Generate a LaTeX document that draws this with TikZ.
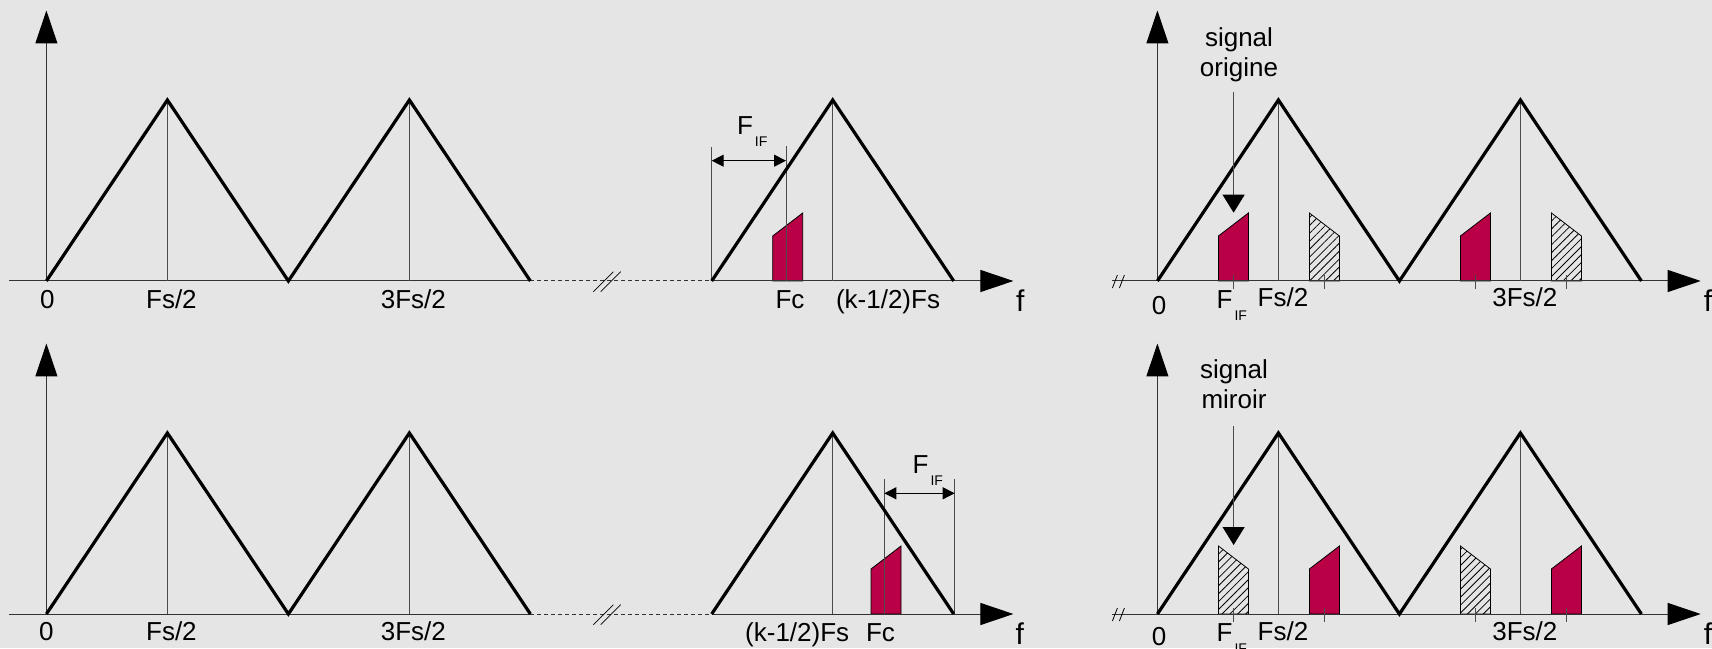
\documentclass[tikz,border=0pt]{standalone}
\usepackage{fontspec}
\setmainfont{Liberation Sans}
\usetikzlibrary{arrows.meta, patterns.meta, positioning}
\definecolor{cFond}{gray}{0.9}
\definecolor{cSignal}{RGB}{185,0,70}
\colorlet{cTrait}{black!80}

\tikzset{
  spectre/.style={line width=1.6pt},
  axe/.style={line width=0.5pt, cTrait},
  fleche/.style={-{Triangle[length=16.5pt,width=11pt,black]}},
  raie/.style={line width=0.5pt, black!70},
  cote/.style={line width=0.5pt, {Triangle[length=6pt,width=6pt]}-{Triangle[length=6pt,width=6pt]}},
  pointe/.style={line width=0.5pt, black!70, -{Triangle[length=9pt,width=11pt,black]}},
  blocRouge/.style={draw=black, line width=0.4pt, fill=cSignal},
  blocHach/.style={draw=black, line width=0.4pt, pattern={Lines[angle=45,distance=2.8pt,line width=0.4pt]}},
  lbl/.style={anchor=base, inner sep=0pt, font=\fontsize{13}{15}\selectfont},
  lblf/.style={anchor=base, inner sep=0pt, font=\fontsize{15}{17}\selectfont},
  note/.style={anchor=south, inner sep=0pt, align=center, font=\fontsize{13}{15}\selectfont},
}
\newcommand{\fif}{F\hspace{1pt}\raisebox{-6pt}{\fontsize{7}{8}\selectfont IF}}

\begin{document}
\begin{tikzpicture}[x=0.5pt, y=0.5pt]
    \useasboundingbox (0,0) rectangle (1712,648);
    \fill[cFond] (0,0) rectangle (1712,648);

    % Haut gauche : bande de Nyquist k, signal au-dessous de (k-1/2)Fs
    \begin{scope}[shift={(46.4,367)}]
    \draw[blocRouge] (726.3,0) -- (726.3,45) -- (756.3,68) -- (756.3,0) -- cycle;
    \draw[axe] (-37.4,0) -- (484,0);
    \draw[axe, dash pattern=on 2pt off 1.5pt] (484,0) -- (665.3,0);
    \draw[axe, fleche] (665.3,0) -- (967,0);
    \draw[axe, fleche] (0,0) -- (0,270.5);
    \draw[line width=0.4pt] (547,-10.7) -- (567,9.3) (554.3,-10.7) -- (574.3,9.3);
    \foreach \x in {121,363,786.3} \draw[raie] (\x,0) -- (\x,181);
    \draw[raie] (665.3,0) -- (665.3,134) (739.6,0) -- (739.6,135);
    \coordinate (fiG) at (665.3,120.3); \coordinate (fiD) at (739.6,120.3);
    \draw[cote] (fiG) -- (fiD);
    \draw[spectre] (0,0) -- (121,181) -- (242,0) -- (363,181) -- (484,0);
    \draw[spectre] (665.3,0) -- (786.3,181) -- (907.3,0);
    \node[lbl, anchor=base west] (fiH) at (690.3,146) {\fif};
    \node[lbl] (zeroHG) at (0.9,-27.3) {0};
    \node[lbl] (fsHG) at (125,-27.3) {Fs/2};
    \node[lbl] (fs3HG) at (367,-27.3) {3Fs/2};
    \node[lbl] (fcH) at (743.6,-27.3) {Fc};
    \node[lbl] (fkH) at (841.6,-27.3) {(k-1/2)Fs};
    \node[lblf] (fHG) at (973.9,-30.7) {f};
    \end{scope}

    % Bas gauche : signal au-dessus de (k-1/2)Fs
    \begin{scope}[shift={(46.4,34)}]
    \draw[blocRouge] (824.6,0) -- (824.6,45) -- (854.6,68) -- (854.6,0) -- cycle;
    \draw[axe] (-37.4,0) -- (484,0);
    \draw[axe, dash pattern=on 2pt off 1.5pt] (484,0) -- (665.3,0);
    \draw[axe, fleche] (665.3,0) -- (967,0);
    \draw[axe, fleche] (0,0) -- (0,270.5);
    \draw[line width=0.4pt] (547,-10.7) -- (567,9.3) (554.3,-10.7) -- (574.3,9.3);
    \foreach \x in {121,363,786.3} \draw[raie] (\x,0) -- (\x,181);
    \draw[raie] (837.9,0) -- (837.9,134.7) (908.3,0) -- (908.3,134.7);
    \coordinate (fiG2) at (837.9,120.7); \coordinate (fiD2) at (908.3,120.7);
    \draw[cote] (fiG2) -- (fiD2);
    \draw[spectre] (0,0) -- (121,181) -- (242,0) -- (363,181) -- (484,0);
    \draw[spectre] (665.3,0) -- (786.3,181) -- (907.3,0);
    \node[lbl, anchor=base west] (fiB) at (865.9,140) {\fif};
    \node[lbl] (zeroBG) at (0,-26) {0};
    \node[lbl] (fsBG) at (125,-26) {Fs/2};
    \node[lbl] (fs3BG) at (367,-26) {3Fs/2};
    \node[lbl] (fkB) at (750.8,-27.7) {(k-1/2)Fs};
    \node[lbl] (fcB) at (834.1,-27.7) {Fc};
    \node[lblf] (fBG) at (973.5,-30) {f};
    \end{scope}

    % Haut droite : signal origine apres echantillonnage
    \begin{scope}[shift={(1157.4,367)}]
    \draw[blocRouge] (61,0) -- (61,45) -- (91,68) -- (91,0) -- cycle;
    \draw[blocRouge] (303,0) -- (303,45) -- (333,68) -- (333,0) -- cycle;
    \draw[blocHach] (152,0) -- (152,68) -- (182,45) -- (182,0) -- cycle;
    \draw[blocHach] (394,0) -- (394,68) -- (424,45) -- (424,0) -- cycle;
    \draw[axe, fleche] (-45.4,0) -- (543.3,0);
    \draw[axe, fleche] (0,0) -- (0,270.5);
    \draw[line width=0.4pt] (-45,-7) -- (-40,6) (-38,-7) -- (-33,6);
    \foreach \x in {121,363} \draw[raie] (\x,0) -- (\x,181);
    \foreach \x in {76,167,318,409} \draw[raie] (\x,-8) -- (\x,6);
    \draw[spectre] (0,0) -- (121,181) -- (242,0) -- (363,181) -- (484,0);
    \node[note] (sigO) at (81.6,198.8) {signal\\origine};
    \coordinate (oriTip) at (76.2,68.3);
    \draw[pointe, shorten <=4.75pt] (sigO.south -| oriTip) -- (oriTip);
    \node[lbl] (zeroHD) at (1.6,-34) {0};
    \node[lbl, anchor=base west] (fiHD) at (58.8,-27.3) {\fif};
    \node[lbl] (fsHD) at (125.6,-25.7) {Fs/2};
    \node[lbl] (fs3HD) at (367.4,-25.7) {3Fs/2};
    \node[lblf] (fHD) at (550.6,-30.7) {f};
    \end{scope}

    % Bas droite : signal miroir
    \begin{scope}[shift={(1157.4,34)}]
    \draw[blocHach] (61,0) -- (61,68) -- (91,45) -- (91,0) -- cycle;
    \draw[blocHach] (303,0) -- (303,68) -- (333,45) -- (333,0) -- cycle;
    \draw[blocRouge] (152,0) -- (152,45) -- (182,68) -- (182,0) -- cycle;
    \draw[blocRouge] (394,0) -- (394,45) -- (424,68) -- (424,0) -- cycle;
    \draw[axe, fleche] (-45.4,0) -- (543.3,0);
    \draw[axe, fleche] (0,0) -- (0,270.5);
    \draw[line width=0.4pt] (-45,-7) -- (-40,6) (-38,-7) -- (-33,6);
    \foreach \x in {121,363} \draw[raie] (\x,0) -- (\x,181);
    \foreach \x in {76,167,318,409} \draw[raie] (\x,-8) -- (\x,6);
    \draw[spectre] (0,0) -- (121,181) -- (242,0) -- (363,181) -- (484,0);
    \node[note] (sigM) at (76.6,204.7) {signal\\miroir};
    \coordinate (miTip) at (76.2,69);
    \draw[pointe, shorten <=8.35pt] (sigM.south -| miTip) -- (miTip);
    \node[lbl] (zeroBD) at (1.6,-31) {0};
    \node[lbl, anchor=base west] (fiBD) at (58.8,-27.7) {\fif};
    \node[lbl] (fsBD) at (125.6,-26) {Fs/2};
    \node[lbl] (fs3BD) at (367.4,-26) {3Fs/2};
    \node[lblf] (fBD) at (550.6,-30.7) {f};
    \end{scope}
\end{tikzpicture}
\end{document}
